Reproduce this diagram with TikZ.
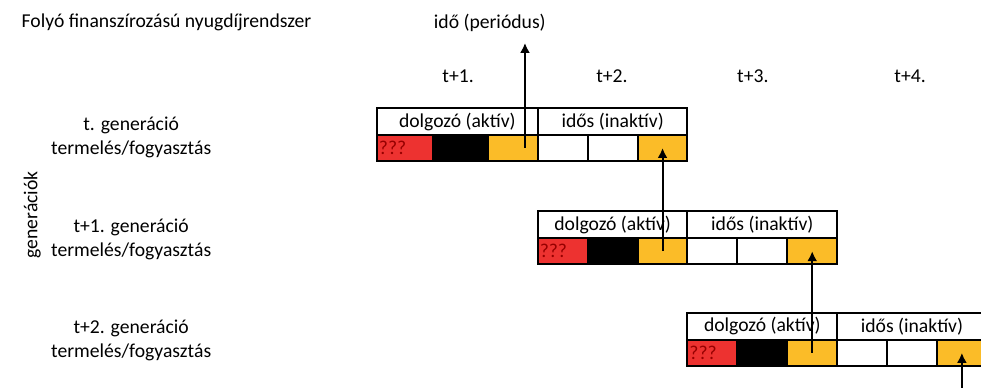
\documentclass[tikz,border=0pt]{standalone}
\usepackage{fontspec}
\usetikzlibrary{arrows.meta}
\setmainfont{Carlito}
\definecolor{cellred}{RGB}{237,50,48}
\definecolor{qred}{RGB}{150,0,0}
\definecolor{cellyellow}{RGB}{251,188,40}
\begin{document}
\begin{tikzpicture}[font=\fontsize{14.8}{18}\selectfont]
\tikzstyle{cell}=[draw=black, line width=1.5pt, minimum width=1.32cm, minimum height=0.70cm, inner sep=0pt]
\tikzstyle{cellRed}=[cell, fill=cellred]
\tikzstyle{cellBlack}=[cell, fill=black]
\tikzstyle{cellYellow}=[cell, fill=cellyellow]
\tikzstyle{cellWhite}=[cell, fill=white]
\tikzstyle{header}=[cell, fill=white, minimum width=3.96cm]
\tikzstyle{qmark}=[text=qred, inner sep=2pt]
\tikzstyle{arrow}=[->,>={Latex[length=7.5pt,width=7.5pt]},line width=1.5pt]

\useasboundingbox (0,0) rectangle (25.956,10.266);

\node[anchor=west] (title) at (0.45,9.68) {Folyó finanszírozású nyugdíjrendszer};
\node (time) at (12.96,9.66) {idő (periódus)};
\node (t1) at (12.12,8.26) {t+1.};
\node (t2) at (16.19,8.26) {t+2.};
\node (t3) at (19.92,8.26) {t+3.};
\node (t4) at (24.08,8.26) {t+4.};

\node[align=center] (gen1) at (3.47,6.63) {t. generáció\\termelés/fogyasztás};
\node[align=center] (gen2) at (3.47,3.92) {t+1. generáció\\termelés/fogyasztás};
\node[align=center] (gen3) at (3.47,1.26) {t+2. generáció\\termelés/fogyasztás};
\node[rotate=90] (gens) at (0.85,4.58) {generációk};

% t. generacio
\node[header, minimum width=4.255cm] (b1h1) at (12.10,7.05) {dolgozó (aktív)};
\node[header] (b1h2) at (16.21,7.05) {idős (inaktív)};
\node[cellRed, minimum width=1.4675cm] (b1c1) at (10.71,6.35) {};
\node[cellBlack, minimum width=1.4675cm] (b1c2) at (12.18,6.35) {};
\node[cellYellow] (b1c3) at (13.57,6.35) {};
\node[cellWhite] (b1c4) at (14.89,6.35) {};
\node[cellWhite] (b1c5) at (16.21,6.35) {};
\node[cellYellow] (b1c6) at (17.53,6.35) {};
\node[qmark, anchor=west] (q1) at (b1c1.west) {???};

% t+1. generacio
\node[header] (b2h1) at (16.21,4.32) {dolgozó (aktív)};
\node[header] (b2h2) at (20.17,4.32) {idős (inaktív)};
\node[cellRed] (b2c1) at (14.89,3.62) {};
\node[cellBlack] (b2c2) at (16.21,3.62) {};
\node[cellYellow] (b2c3) at (17.53,3.62) {};
\node[cellWhite] (b2c4) at (18.85,3.62) {};
\node[cellWhite] (b2c5) at (20.17,3.62) {};
\node[cellYellow] (b2c6) at (21.49,3.62) {};
\node[qmark, anchor=west] (q2) at (b2c1.west) {???};

% t+2. generacio
\node[header] (b3h1) at (20.17,1.63) {dolgozó (aktív)};
\node[header] (b3h2) at (24.13,1.63) {idős (inaktív)};
\node[cellRed] (b3c1) at (18.85,0.93) {};
\node[cellBlack] (b3c2) at (20.17,0.93) {};
\node[cellYellow] (b3c3) at (21.49,0.93) {};
\node[cellWhite] (b3c4) at (22.81,0.93) {};
\node[cellWhite] (b3c5) at (24.13,0.93) {};
\node[cellYellow] (b3c6) at (25.45,0.93) {};
\node[qmark, anchor=west] (q3) at (b3c1.west) {???};

\coordinate (timeTop) at (13.89,9.13);
\coordinate (foot) at (25.45,0);

\draw[arrow] (b1c3.center -| timeTop) -- (timeTop);
\draw[arrow] (b2c3.center) -- (b1c6.center);
\draw[arrow] (b3c3.center) -- (b2c6.center);
\draw[arrow] (foot) -- (b3c6.center);

\end{tikzpicture}
\end{document}
